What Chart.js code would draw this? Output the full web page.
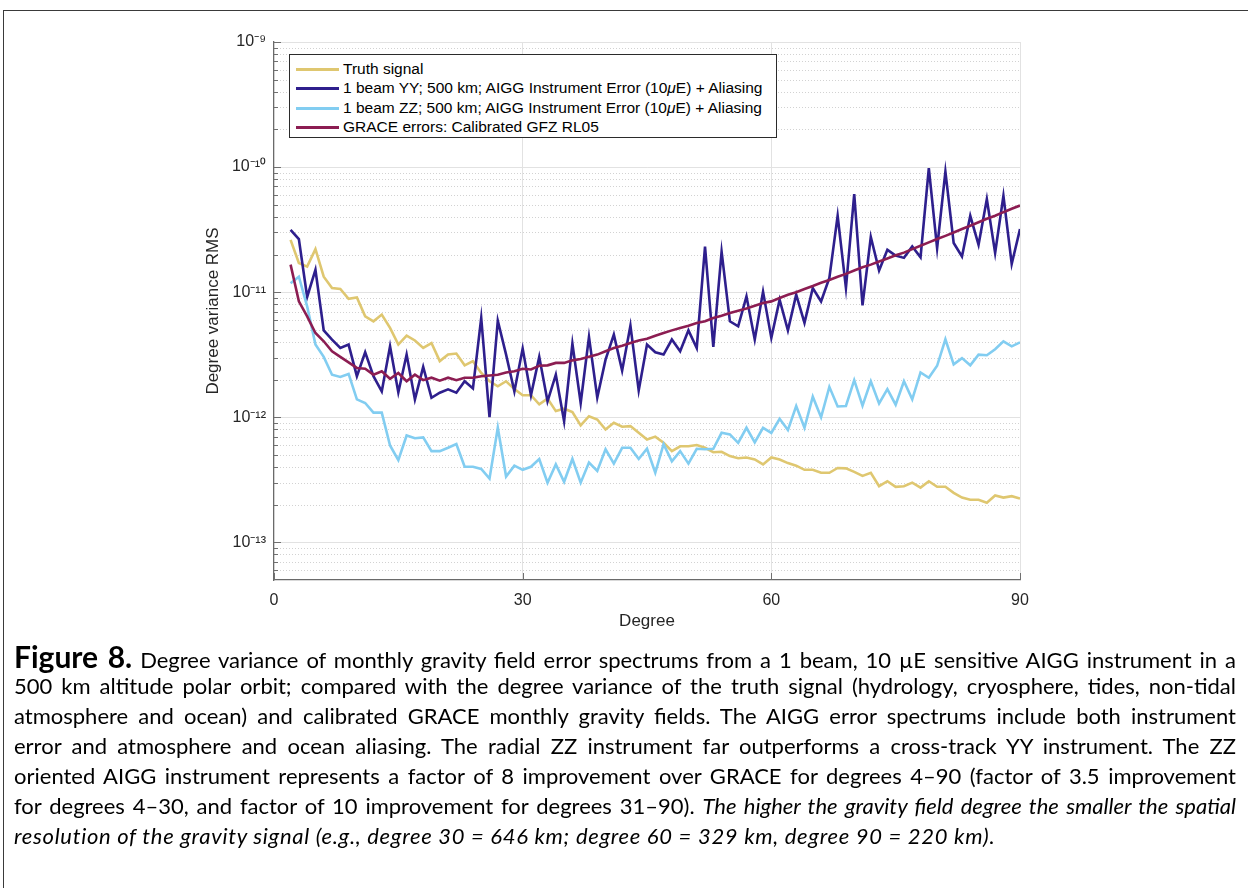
<!DOCTYPE html>
<html><head><meta charset="utf-8">
<script src="https://cdn.jsdelivr.net/npm/chart.js@4.4.1/dist/chart.umd.min.js"></script>
<style>
html,body{margin:0;padding:0;background:#fff;}
body{width:1248px;height:888px;position:relative;overflow:hidden;font-family:"Liberation Sans",Arial,sans-serif;}
#frame{position:absolute;left:3px;top:10px;width:1300px;height:1000px;border-left:1.5px solid #3a3a3a;border-top:1.5px solid #3a3a3a;}
#wrap{position:absolute;left:0;top:0;width:1248px;height:640px;}
#legend{position:absolute;left:289px;top:54px;width:488px;height:84px;border:1px solid #2b2b2b;background:#fff;box-sizing:border-box;}
.row{position:absolute;left:0;width:100%;height:18px;}
.sw{position:absolute;left:6px;top:8px;width:43px;height:0;border-top:3px solid;}
.lt{position:absolute;left:53px;top:0;line-height:18px;font-size:15.5px;color:#000;white-space:nowrap;}
#caption{position:absolute;left:14px;top:641px;width:1222px;font-family:Lato,"Open Sans",sans-serif;font-size:22px;color:#000;}
.cl{height:30px;line-height:30px;text-align:justify;text-align-last:justify;overflow:visible;}
.cl.last{text-align-last:left;letter-spacing:0.7px;}
.fig{font-weight:bold;font-size:30px;}
</style></head>
<body>
<div id="frame"></div>
<div id="wrap"><canvas id="c" width="1248" height="640"></canvas></div>
<div id="legend"></div>
<div id="caption">
<div class="cl"><span class="fig">Figure 8.</span> Degree variance of monthly gravity field error spectrums from a 1 beam, 10 µE sensitive AIGG instrument in a</div>
<div class="cl">500 km altitude polar orbit; compared with the degree variance of the truth signal (hydrology, cryosphere, tides, non-tidal</div>
<div class="cl">atmosphere and ocean) and calibrated GRACE monthly gravity fields. The AIGG error spectrums include both instrument</div>
<div class="cl">error and atmosphere and ocean aliasing. The radial ZZ instrument far outperforms a cross-track YY instrument. The ZZ</div>
<div class="cl">oriented AIGG instrument represents a factor of 8 improvement over GRACE for degrees 4–90 (factor of 3.5 improvement</div>
<div class="cl">for degrees 4–30, and factor of 10 improvement for degrees 31–90). <i>The higher the gravity field degree the smaller the spatial</i></div>
<div class="cl last"><i>resolution of the gravity signal (e.g., degree 30 = 646 km; degree 60 = 329 km, degree 90 = 220 km).</i></div>
</div>
<script>
// ---------------- DATA ----------------
const degrees = [2,3,4,5,6,7,8,9,10,11,12,13,14,15,16,17,18,19,20,21,22,23,24,25,26,27,28,29,30,31,32,33,34,35,36,37,38,39,40,41,42,43,44,45,46,47,48,49,50,51,52,53,54,55,56,57,58,59,60,61,62,63,64,65,66,67,68,69,70,71,72,73,74,75,76,77,78,79,80,81,82,83,84,85,86,87,88,89,90];

const truthSignal = [2.62e-11,1.71e-11,1.60e-11,2.21e-11,1.33e-11,1.08e-11,1.06e-11,8.84e-12,9.08e-12,6.41e-12,
5.85e-12,6.62e-12,5.18e-12,3.81e-12,4.49e-12,4.11e-12,3.58e-12,3.92e-12,2.81e-12,3.17e-12,
3.23e-12,2.60e-12,2.81e-12,2.26e-12,1.94e-12,1.77e-12,1.94e-12,1.68e-12,1.50e-12,1.50e-12,
1.27e-12,1.41e-12,1.12e-12,1.17e-12,1.10e-12,8.6e-13,1.02e-12,9.6e-13,7.98e-13,9.03e-13,
8.39e-13,8.5e-13,7.51e-13,6.64e-13,7.0e-13,6.25e-13,5.36e-13,5.86e-13,5.87e-13,6.0e-13,
5.70e-13,5.25e-13,5.3e-13,4.89e-13,4.7e-13,4.77e-13,4.60e-13,4.2e-13,4.77e-13,4.6e-13,
4.3e-13,4.1e-13,3.8e-13,3.8e-13,3.6e-13,3.6e-13,3.93e-13,3.9e-13,3.66e-13,3.4e-13,
3.6e-13,2.81e-13,3.08e-13,2.78e-13,2.81e-13,3.0e-13,2.74e-13,3.08e-13,2.78e-13,2.78e-13,
2.49e-13,2.28e-13,2.19e-13,2.19e-13,2.07e-13,2.37e-13,2.28e-13,2.34e-13,2.24e-13];

const yyError = [3.15e-11,2.66e-11,9.16e-12,1.51e-11,4.95e-12,4.18e-12,3.58e-12,3.81e-12,2.13e-12,3.31e-12,
2.13e-12,1.61e-12,3.69e-12,1.58e-12,3.17e-12,1.39e-12,2.53e-12,1.43e-12,1.57e-12,1.67e-12,
1.57e-12,1.94e-12,1.70e-12,6.22e-12,1.00e-12,5.92e-12,3.17e-12,1.61e-12,3.54e-12,1.50e-12,
3.04e-12,1.34e-12,2.19e-12,9.3e-13,3.88e-12,1.30e-12,4.39e-12,1.44e-12,2.89e-12,4.58e-12,
2.36e-12,5.40e-12,1.64e-12,3.81e-12,3.31e-12,3.17e-12,4.18e-12,3.37e-12,4.95e-12,3.58e-12,
2.31e-11,3.65e-12,2.11e-11,5.85e-12,5.33e-12,9.26e-12,4.18e-12,1.01e-11,4.31e-12,8.71e-12,
4.95e-12,9.55e-12,5.68e-12,1.08e-11,8.44e-12,1.30e-11,4.08e-11,1.08e-11,6.08e-11,7.85e-12,
2.76e-11,1.49e-11,2.18e-11,1.96e-11,1.88e-11,2.32e-11,1.90e-11,9.8e-11,2.25e-11,9.2e-11,
2.47e-11,1.93e-11,4.08e-11,2.39e-11,5.55e-11,2.06e-11,5.89e-11,1.68e-11,3.20e-11];

const zzError = [1.18e-11,1.33e-11,7.7e-12,3.81e-12,3.04e-12,2.19e-12,2.1e-12,2.22e-12,1.39e-12,1.30e-12,
1.09e-12,1.09e-12,5.95e-13,4.54e-13,7.15e-13,6.8e-13,6.9e-13,5.36e-13,5.36e-13,5.7e-13,
6.1e-13,4.02e-13,4.02e-13,3.86e-13,3.23e-13,8.24e-13,3.36e-13,4.1e-13,3.8e-13,4.02e-13,
4.64e-13,3.0e-13,4.2e-13,3.05e-13,4.64e-13,3.0e-13,4.35e-13,3.72e-13,5.55e-13,4.26e-13,
5.7e-13,5.7e-13,4.64e-13,5.6e-13,3.6e-13,6.1e-13,4.45e-13,5.36e-13,4.26e-13,5.6e-13,
5.55e-13,5.6e-13,7.51e-13,7.3e-13,6.25e-13,8.24e-13,6.3e-13,8.24e-13,7.5e-13,9.72e-13,
7.9e-13,1.23e-12,8.24e-13,1.46e-12,1.0e-12,1.75e-12,1.22e-12,1.23e-12,1.98e-12,1.24e-12,
1.94e-12,1.29e-12,1.68e-12,1.26e-12,1.94e-12,1.39e-12,2.28e-12,2.07e-12,2.58e-12,4.2e-12,
2.65e-12,2.97e-12,2.60e-12,3.17e-12,3.13e-12,3.5e-12,4.05e-12,3.69e-12,3.97e-12];

const graceError = [1.66e-11,8.44e-12,6.41e-12,4.72e-12,4.05e-12,3.37e-12,3.04e-12,2.75e-12,2.48e-12,2.44e-12,
2.19e-12,2.33e-12,2.03e-12,2.26e-12,1.94e-12,2.19e-12,1.98e-12,2.07e-12,1.96e-12,2.07e-12,
1.98e-12,2.07e-12,2.07e-12,2.13e-12,2.16e-12,2.19e-12,2.28e-12,2.33e-12,2.44e-12,2.41e-12,
2.58e-12,2.60e-12,2.72e-12,2.72e-12,2.85e-12,2.92e-12,3.04e-12,3.17e-12,3.37e-12,3.58e-12,
3.73e-12,3.92e-12,4.11e-12,4.24e-12,4.49e-12,4.72e-12,4.95e-12,5.18e-12,5.40e-12,5.68e-12,
5.85e-12,6.22e-12,6.49e-12,6.82e-12,7.11e-12,7.42e-12,7.80e-12,8.19e-12,8.44e-12,8.97e-12,
9.55e-12,1.00e-11,1.06e-11,1.12e-11,1.19e-11,1.25e-11,1.33e-11,1.40e-11,1.49e-11,1.58e-11,
1.66e-11,1.76e-11,1.86e-11,1.97e-11,2.07e-11,2.21e-11,2.35e-11,2.50e-11,2.66e-11,2.82e-11,
3.00e-11,3.20e-11,3.40e-11,3.62e-11,3.86e-11,4.08e-11,4.36e-11,4.64e-11,4.93e-11];

const seriesLabels = [
  'Truth signal',
  '1 beam YY; 500 km; AIGG Instrument Error (10μE) + Aliasing',
  '1 beam ZZ; 500 km; AIGG Instrument Error (10μE) + Aliasing',
  'GRACE errors: Calibrated GFZ RL05'
];
const seriesColors = ['#dfc770', '#2e1f8d', '#82cdf1', '#8c1d52'];
const xTickValues = [0, 30, 60, 90];
const yDecadeExponents = [-13, -12, -11, -10, -9];
const xLimits = [0, 90];
const yLimits = [5e-14, 1e-9];

// ---------------- CHART ----------------
const supMap = {'-':'⁻','0':'⁰','1':'¹','2':'²','3':'³','4':'⁴','5':'⁵','6':'⁶','7':'⁷','8':'⁸','9':'⁹'};
const sup = s => String(s).split('').map(ch => supMap[ch]).join('');
const pts = arr => degrees.map((d, i) => ({x: d, y: arr[i]}));
const allSeries = [truthSignal, yyError, zzError, graceError];

const datasets = allSeries.map((arr, i) => ({
  label: seriesLabels[i],
  data: pts(arr),
  borderColor: seriesColors[i],
  backgroundColor: seriesColors[i],
  borderWidth: 2.6,
  pointRadius: 0,
  tension: 0,
  fill: false,
  order: 3 - i
}));

const matlabAxes = {
  id: 'matlabAxes',
  beforeDatasetsDraw(chart) {
    const {ctx, chartArea: a, scales: {x, y}} = chart;
    ctx.save();
    ctx.lineWidth = 1;
    ctx.strokeStyle = '#d2d2d2';
    ctx.setLineDash([1, 2]);
    y.ticks.forEach(t => {
      if (t.major) return;
      const py = Math.round(y.getPixelForValue(t.value)) + 0.5;
      if (py >= a.bottom - 1 || py <= a.top + 1) return;
      ctx.beginPath(); ctx.moveTo(a.left, py); ctx.lineTo(a.right, py); ctx.stroke();
    });
    ctx.setLineDash([]);
    ctx.strokeStyle = '#707070';
    y.ticks.forEach(t => {
      const py = Math.round(y.getPixelForValue(t.value)) + 0.5;
      if (py >= a.bottom - 1) return;
      const len = t.major ? 7 : 4;
      ctx.beginPath(); ctx.moveTo(a.left, py); ctx.lineTo(a.left + len, py); ctx.stroke();
    });
    x.ticks.forEach(t => {
      const px = Math.round(x.getPixelForValue(t.value)) + 0.5;
      ctx.beginPath(); ctx.moveTo(px, a.bottom); ctx.lineTo(px, a.bottom - 7); ctx.stroke();
    });
    ctx.restore();
  }
};

new Chart(document.getElementById('c'), {
  type: 'line',
  data: {datasets},
  plugins: [matlabAxes],
  options: {
    responsive: false,
    animation: false,
    events: [],
    layout: {padding: {left: 199, right: 228, top: 42, bottom: 8}},
    plugins: {legend: {display: false}, tooltip: {enabled: false}, title: {display: false}},
    scales: {
      x: {
        type: 'linear',
        min: xLimits[0], max: xLimits[1],
        afterBuildTicks: s => { s.ticks = xTickValues.map(v => ({value: v})); },
        afterFit: s => { s.height = 52; },
        grid: {color: ctx => (ctx.tick && ctx.tick.value === 0) ? 'rgba(0,0,0,0)' : '#e2e2e2', lineWidth: 1, drawTicks: false},
        border: {display: true, color: '#6a6a6a', width: 1.3},
        ticks: {font: {family: 'Liberation Sans', size: 16}, color: '#262626', padding: 11, maxRotation: 0, autoSkip: false},
        title: {display: true, text: 'Degree', font: {family: 'Liberation Sans', size: 17}, color: '#262626', padding: {top: 1, bottom: 0}}
      },
      y: {
        type: 'logarithmic',
        min: yLimits[0], max: yLimits[1],
        afterBuildTicks: s => {
          const ticks = [];
          for (const e of [-14, ...yDecadeExponents]) {
            for (let m = 1; m <= 9; m++) {
              const v = Number(m + 'e' + e);
              if (v >= yLimits[0] * 0.999 && v <= yLimits[1] * 1.001) ticks.push({value: v, major: m === 1, exp: e});
            }
          }
          s.ticks = ticks;
        },
        afterFit: s => { s.width = 75; },
        grid: {color: ctx => (ctx.tick && ctx.tick.major) ? '#e2e2e2' : 'rgba(0,0,0,0)', lineWidth: 1, drawTicks: false},
        border: {display: true, color: '#6a6a6a', width: 1.3},
        ticks: {
          font: {family: 'Liberation Sans', size: 16}, color: '#262626', padding: 8, autoSkip: false,
          callback: function(value, index, ticks) {
            const t = ticks[index];
            if (!t.major) return '';
            return '10' + sup(Math.round(Math.log10(value)));
          }
        },
        title: {display: true, text: 'Degree variance RMS', font: {family: 'Liberation Sans', size: 17}, color: '#262626', padding: {top: 4, bottom: 0}}
      }
    }
  }
});

// ---------------- HTML LEGEND ----------------
const legend = document.getElementById('legend');
const rowCenters = [14, 33.3, 52.6, 72];
seriesLabels.forEach((lab, i) => {
  const r = document.createElement('div');
  r.className = 'row';
  r.style.top = (rowCenters[i] - 9) + 'px';
  const sw = document.createElement('div');
  sw.className = 'sw';
  sw.style.borderTopColor = seriesColors[i];
  const t = document.createElement('div');
  t.className = 'lt';
  t.innerHTML = lab.replace('μ', '<i>μ</i>');
  r.appendChild(sw); r.appendChild(t);
  legend.appendChild(r);
});

// fit caption lines on one line each
(function fitCaption(){
  const cap = document.getElementById('caption');
  let size = 22;
  const lines = cap.querySelectorAll('.cl');
  const tooTall = () => Array.from(lines).some(l => l.scrollHeight > 34);
  let guard = 0;
  while (tooTall() && guard < 30) { size -= 0.25; cap.style.fontSize = size + 'px'; guard++; }
})();
</script>
</body></html>
